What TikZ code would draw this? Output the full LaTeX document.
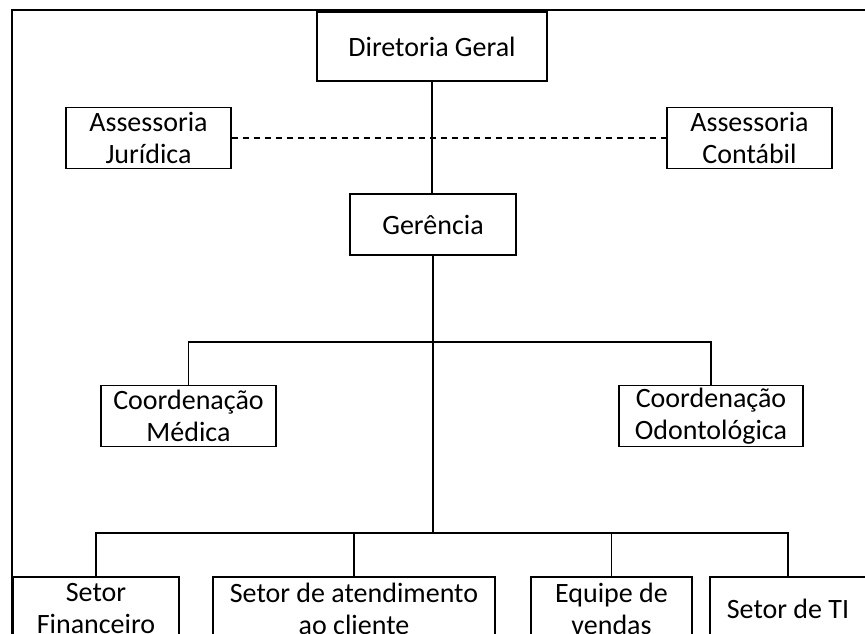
\documentclass[tikz,border=0pt]{standalone}
\usepackage{xcolor}
\usepackage{fontspec}
\setmainfont{Carlito}
\usepackage{tikz}

\tikzset{
  orgbox/.style={draw, line width=1.2pt, fill=white, align=center, inner sep=0pt,
    minimum height=61, font=\fontsize{28}{32}\selectfont},
  link/.style={line width=1.3pt},
}

\begin{document}
\begin{tikzpicture}[x=1pt, y=-1pt]
  \useasboundingbox (0,0) rectangle (865,634);
  \clip (0,0) rectangle (865,634);
  \draw[line width=2pt] (12,10) rectangle (900,700); %frame

  % boxes
  \node[orgbox, minimum width=230, minimum height=69] (dg) at (432,46.5) {Diretoria Geral};
  \node[orgbox, minimum width=165] (jur) at (148.5,138) {Assessoria\\Jurídica};
  \node[orgbox, minimum width=165] (cont) at (749.5,138) {Assessoria\\Contábil};
  \node[orgbox, minimum width=166] (ger) at (433,224.5) {Gerência};
  \node[orgbox, minimum width=175] (med) at (188.5,416) {Coordenação\\Médica};
  \node[orgbox, minimum width=184] (odo) at (711,416) {Coordenação\\Odontológica};
  \node[orgbox, minimum width=166, minimum height=64] (fin) at (96,609) {Setor\\Financeiro};
  \node[orgbox, minimum width=282, minimum height=64] (ate) at (354,609) {Setor de atendimento\\ao cliente};
  \node[orgbox, minimum width=161, minimum height=64] (ven) at (611.5,609) {Equipe de\\vendas};
  \node[orgbox, minimum width=156, minimum height=64] (ti) at (788,609) {Setor de TI};

  \coordinate (bus1) at (433,342);
  \coordinate (bus2) at (433,533);

  % lines
  \draw[link] (dg.south) -- (dg.south |- ger.north);
  \draw[link, dash pattern=on 6pt off 5pt] (jur) -- (cont);
  \draw[link] (ger.south) -- (bus2);
  \draw[link] (med.north) |- (bus1) -| (odo.north);
  \draw[link] (fin.north) |- (bus2) -| (ti.north);
  \draw[link] (ate.north) -- (ate.north |- bus2);
  \draw[link] (ven.north) -- (ven.north |- bus2);
\end{tikzpicture}
\end{document}
